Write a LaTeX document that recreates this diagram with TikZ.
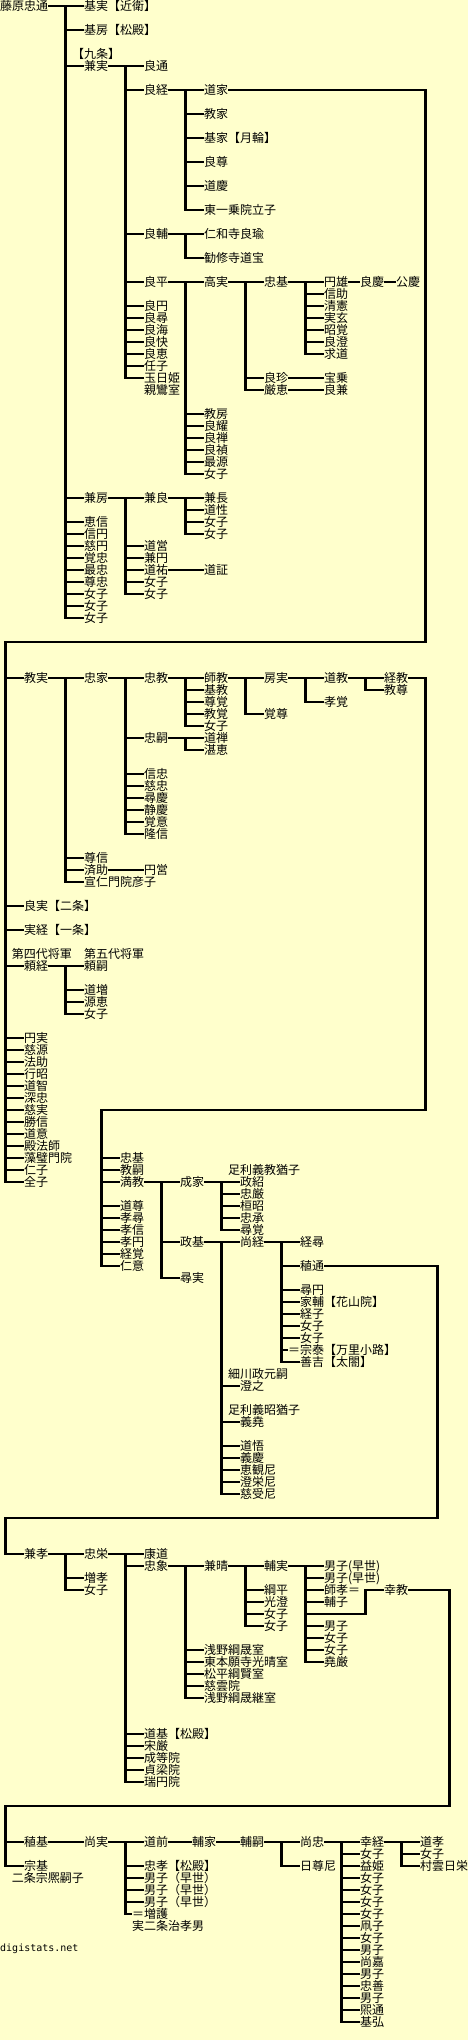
\documentclass[tikz,border=0pt]{standalone}
\usepackage{fontspec}
\newfontfamily\jpf{Noto Sans CJK JP}
\newfontfamily\monof{DejaVu Sans Mono}
\definecolor{bgc}{HTML}{FFFFCC}
\tikzset{
 nm/.style={anchor=west,inner sep=0pt,outer sep=0pt,font=\jpf\fontsize{12pt}{12pt}\selectfont,text height=10.56pt,text depth=1.44pt},
 ln/.style={line width=2.2pt,draw=black},
}
\newcommand\jn[4]{\node[nm] (#1) at (#2,#3+0.5) {#4};}
\newcommand\kids[3]{\draw[ln] (#1.east) -- (#1.east -| #2);\foreach \kid in {#3}{\draw[ln] (#1.east -| #2) |- (\kid.west);}}
\newcommand\lnk[2]{\draw[ln] (#1.east) -- (#2.west);}
\begin{document}
\begin{tikzpicture}[x=12pt,y=-12pt]
\fill[bgc] (0,0) rectangle (39,170);
\useasboundingbox (0,0) rectangle (39,170);
\foreach \c in {0,...,38}{\coordinate (col\c) at (\c+0.45,0);}
% ---------- section 1
\jn{p0}{0}{0}{藤原忠通}
\jn{p1}{7}{0}{基実【近衛】}
\jn{p2}{7}{2}{基房【松殿】}
\jn{lk}{6}{4}{【九条】}
\jn{p3}{7}{5}{兼実}
\jn{q1}{12}{5}{良通}
\jn{q2}{12}{7}{良経}
\jn{r1}{17}{7}{道家}
\jn{r2}{17}{9}{教家}
\jn{r3}{17}{11}{基家【月輪】}
\jn{r4}{17}{13}{良尊}
\jn{r5}{17}{15}{道慶}
\jn{r6}{17}{17}{東一乗院立子}
\jn{q3}{12}{19}{良輔}
\jn{s1}{17}{19}{仁和寺良瑜}
\jn{s2}{17}{21}{勧修寺道宝}
\jn{q4}{12}{23}{良平}
\jn{t1}{17}{23}{高実}
\jn{u1}{22}{23}{忠基}
\jn{v1}{27}{23}{円雄}
\jn{v1a}{30}{23}{良慶}
\jn{v1b}{33}{23}{公慶}
\jn{v2}{27}{24}{信助}
\jn{v3}{27}{25}{清憲}
\jn{v4}{27}{26}{実玄}
\jn{v5}{27}{27}{昭覚}
\jn{v6}{27}{28}{良澄}
\jn{v7}{27}{29}{求道}
\jn{u2}{22}{31}{良珍}
\jn{u2a}{27}{31}{宝乗}
\jn{u3}{22}{32}{厳恵}
\jn{u3a}{27}{32}{良兼}
\jn{q5}{12}{25}{良円}
\jn{q6}{12}{26}{良尋}
\jn{q7}{12}{27}{良海}
\jn{q8}{12}{28}{良快}
\jn{q9}{12}{29}{良恵}
\jn{q10}{12}{30}{任子}
\jn{q11}{12}{31}{玉日姫}
\jn{ls}{12}{32}{親鸞室}
\jn{t2}{17}{34}{教房}
\jn{t3}{17}{35}{良耀}
\jn{t4}{17}{36}{良禅}
\jn{t5}{17}{37}{良禎}
\jn{t6}{17}{38}{最源}
\jn{t7}{17}{39}{女子}
\jn{p4}{7}{41}{兼房}
\jn{w1}{12}{41}{兼良}
\jn{x1}{17}{41}{兼長}
\jn{x2}{17}{42}{道性}
\jn{x3}{17}{43}{女子}
\jn{x4}{17}{44}{女子}
\jn{w2}{12}{45}{道営}
\jn{w3}{12}{46}{兼円}
\jn{w4}{12}{47}{道祐}
\jn{w4a}{17}{47}{道証}
\jn{w5}{12}{48}{女子}
\jn{w6}{12}{49}{女子}
\jn{p5}{7}{43}{恵信}
\jn{p6}{7}{44}{信円}
\jn{p7}{7}{45}{慈円}
\jn{p8}{7}{46}{覚忠}
\jn{p9}{7}{47}{最忠}
\jn{p10}{7}{48}{尊忠}
\jn{p11}{7}{49}{女子}
\jn{p12}{7}{50}{女子}
\jn{p13}{7}{51}{女子}
\kids{p0}{col5}{p1,p2,p3,p4,p5,p6,p7,p8,p9,p10,p11,p12,p13}
\kids{p3}{col10}{q1,q2,q3,q4,q5,q6,q7,q8,q9,q10,q11}
\kids{q2}{col15}{r1,r2,r3,r4,r5,r6}
\kids{q3}{col15}{s1,s2}
\kids{q4}{col15}{t1,t2,t3,t4,t5,t6,t7}
\kids{t1}{col20}{u1,u2,u3}
\kids{u1}{col25}{v1,v2,v3,v4,v5,v6,v7}
\lnk{v1}{v1a}\lnk{v1a}{v1b}\lnk{u2}{u2a}\lnk{u3}{u3a}
\kids{p4}{col10}{w1,w2,w3,w4,w5,w6}
\kids{w1}{col15}{x1,x2,x3,x4}
\lnk{w4}{w4a}
% ---------- section 2
\jn{k0}{2}{56}{教実}
\jn{k1}{7}{56}{忠家}
\jn{k2}{12}{56}{忠教}
\jn{k3}{17}{56}{師教}
\jn{k4}{22}{56}{房実}
\jn{k5}{27}{56}{道教}
\jn{k6}{32}{56}{経教}
\jn{k3a}{17}{57}{基教}
\jn{k3b}{17}{58}{尊覚}
\jn{k3c}{17}{59}{教覚}
\jn{k3d}{17}{60}{女子}
\jn{k6a}{32}{57}{教尊}
\jn{k5a}{27}{58}{孝覚}
\jn{k4a}{22}{59}{覚尊}
\jn{k2a}{12}{61}{忠嗣}
\jn{k2a1}{17}{61}{道禅}
\jn{k2a2}{17}{62}{湛恵}
\jn{k2b}{12}{64}{信忠}
\jn{k2c}{12}{65}{慈忠}
\jn{k2d}{12}{66}{尋慶}
\jn{k2e}{12}{67}{静慶}
\jn{k2f}{12}{68}{覚意}
\jn{k2g}{12}{69}{隆信}
\jn{k1a}{7}{71}{尊信}
\jn{k1b}{7}{72}{済助}
\jn{k1b1}{12}{72}{円営}
\jn{k1c}{7}{73}{宣仁門院彦子}
\jn{y1}{2}{75}{良実【二条】}
\jn{y2}{2}{77}{実経【一条】}
\jn{l4}{1}{79}{第四代将軍}
\jn{l5}{7}{79}{第五代将軍}
\jn{y3}{2}{80}{頼経}
\jn{y3a}{7}{80}{頼嗣}
\jn{y3b}{7}{82}{道増}
\jn{y3c}{7}{83}{源恵}
\jn{y3d}{7}{84}{女子}
\jn{y4}{2}{86}{円実}
\jn{y5}{2}{87}{慈源}
\jn{y6}{2}{88}{法助}
\jn{y7}{2}{89}{行昭}
\jn{y8}{2}{90}{道智}
\jn{y9}{2}{91}{深忠}
\jn{y10}{2}{92}{慈実}
\jn{y11}{2}{93}{勝信}
\jn{y12}{2}{94}{道意}
\jn{y13}{2}{95}{殿法師}
\jn{y14}{2}{96}{藻璧門院}
\jn{y15}{2}{97}{仁子}
\jn{y16}{2}{98}{全子}
\coordinate (ta) at (35.45,53.5);
\coordinate (tb) at (0.45,53.5);
\draw[ln] (r1.east) -| (ta) -- (tb) |- (k0.west);
\foreach \kid in {y1,y2,y3,y4,y5,y6,y7,y8,y9,y10,y11,y12,y13,y14,y15,y16}{\draw[ln] (tb) |- (\kid.west);}
\kids{k0}{col5}{k1,k1a,k1b,k1c}
\kids{k1}{col10}{k2,k2a,k2b,k2c,k2d,k2e,k2f,k2g}
\kids{k2}{col15}{k3,k3a,k3b,k3c,k3d}
\kids{k3}{col20}{k4,k4a}
\kids{k4}{col25}{k5,k5a}
\kids{k5}{col30}{k6,k6a}
\kids{k2a}{col15}{k2a1,k2a2}
\lnk{k1b}{k1b1}
\kids{y3}{col5}{y3a,y3b,y3c,y3d}
% ---------- section 3
\jn{m1}{10}{96}{忠基}
\jn{m2}{10}{97}{教嗣}
\jn{m3}{10}{98}{満教}
\jn{m4}{10}{100}{道尊}
\jn{m5}{10}{101}{孝尋}
\jn{m6}{10}{102}{孝信}
\jn{m7}{10}{103}{孝円}
\jn{m8}{10}{104}{経覚}
\jn{m9}{10}{105}{仁意}
\jn{la}{19}{97}{足利義教猶子}
\jn{n1}{15}{98}{成家}
\jn{n2}{15}{103}{政基}
\jn{n3}{15}{106}{尋実}
\jn{o1}{20}{98}{政紹}
\jn{o2}{20}{99}{忠厳}
\jn{o3}{20}{100}{桓昭}
\jn{o4}{20}{101}{忠承}
\jn{o5}{20}{102}{尋覚}
\jn{z0}{20}{103}{尚経}
\jn{lb}{19}{114}{細川政元嗣}
\jn{z1}{20}{115}{澄之}
\jn{lc}{19}{117}{足利義昭猶子}
\jn{z2}{20}{118}{義堯}
\jn{z3}{20}{120}{道悟}
\jn{z4}{20}{121}{義慶}
\jn{z5}{20}{122}{恵観尼}
\jn{z6}{20}{123}{澄栄尼}
\jn{z7}{20}{124}{慈受尼}
\jn{g1}{25}{103}{経尋}
\jn{g2}{25}{105}{稙通}
\jn{g3}{25}{107}{尋円}
\jn{g4}{25}{108}{家輔【花山院】}
\jn{g5}{25}{109}{経子}
\jn{g6}{25}{110}{女子}
\jn{g7}{25}{111}{女子}
\jn{g8}{24}{112}{＝宗泰【万里小路】}
\jn{g9}{25}{113}{善吉【太閤】}
\coordinate (tc) at (35.45,92.5);
\coordinate (td) at (8.45,92.5);
\draw[ln] (k6.east) -| (tc) -- (td) |- (m1.west);
\foreach \kid in {m2,m3,m4,m5,m6,m7,m8,m9}{\draw[ln] (td) |- (\kid.west);}
\kids{m3}{col13}{n1,n2,n3}
\kids{n1}{col18}{o1,o2,o3,o4,o5}
\kids{n2}{col18}{z0,z1,z2,z3,z4,z5,z6,z7}
\kids{z0}{col23}{g1,g2,g3,g4,g5,g6,g7,g8,g9}
% ---------- section 4
\jn{h0}{2}{129}{兼孝}
\jn{h1}{7}{129}{忠栄}
\jn{h1a}{7}{131}{増孝}
\jn{h1b}{7}{132}{女子}
\jn{i0}{12}{129}{康道}
\jn{i1}{12}{130}{忠象}
\jn{i2}{12}{144}{道基【松殿】}
\jn{i3}{12}{145}{宋厳}
\jn{i4}{12}{146}{成等院}
\jn{i5}{12}{147}{貞梁院}
\jn{i6}{12}{148}{瑞円院}
\jn{j0}{17}{130}{兼晴}
\jn{j1}{17}{137}{浅野綱晟室}
\jn{j2}{17}{138}{東本願寺光晴室}
\jn{j3}{17}{139}{松平綱賢室}
\jn{j4}{17}{140}{慈雲院}
\jn{j5}{17}{141}{浅野綱晟継室}
\jn{e0}{22}{130}{輔実}
\jn{e1}{22}{132}{綱平}
\jn{e2}{22}{133}{光澄}
\jn{e3}{22}{134}{女子}
\jn{e4}{22}{135}{女子}
\jn{f1}{27}{130}{男子(早世)}
\jn{f2}{27}{131}{男子(早世)}
\jn{f3}{27}{132}{師孝＝}
\jn{f4}{27}{133}{輔子}
\jn{f5}{27}{135}{男子}
\jn{f6}{27}{136}{女子}
\jn{f7}{27}{137}{女子}
\jn{f8}{27}{138}{堯厳}
\jn{kk}{32}{132}{幸教}
\coordinate (te) at (36.45,126.5);
\coordinate (tf) at (0.45,126.5);
\draw[ln] (g2.east) -| (te) -- (tf) |- (h0.west);
\kids{h0}{col5}{h1,h1a,h1b}
\kids{h1}{col10}{i0,i1,i2,i3,i4,i5,i6}
\kids{i1}{col15}{j0,j1,j2,j3,j4,j5}
\kids{j0}{col20}{e0,e1,e2,e3,e4}
\kids{e0}{col25}{f1,f2,f3,f4,f5,f6,f7,f8}
\coordinate (ti) at (30.45,134.5);
\draw[ln] (e0.east -| col25) |- (ti) |- (kk.west);
% ---------- section 5
\jn{S0}{2}{153}{稙基}
\jn{S0b}{2}{155}{宗基}
\jn{ld}{1}{156}{二条宗熈嗣子}
\jn{S1}{7}{153}{尚実}
\jn{S2}{12}{153}{道前}
\jn{S3}{12}{155}{忠孝【松殿】}
\jn{S4}{12}{156}{男子（早世）}
\jn{S5}{12}{157}{男子（早世）}
\jn{S6}{12}{158}{男子（早世）}
\jn{S7}{11}{159}{＝増護}
\jn{le}{11}{160}{実二条治孝男}
\jn{S8}{16}{153}{輔家}
\jn{S9}{20}{153}{輔嗣}
\jn{T0}{25}{153}{尚忠}
\jn{T1}{25}{155}{日尊尼}
\jn{U0}{30}{153}{幸経}
\jn{U1}{30}{154}{女子}
\jn{U2}{30}{155}{益姫}
\jn{U3}{30}{156}{女子}
\jn{U4}{30}{157}{女子}
\jn{U5}{30}{158}{女子}
\jn{U6}{30}{159}{女子}
\jn{U7}{30}{160}{凧子}
\jn{U8}{30}{161}{女子}
\jn{U9}{30}{162}{男子}
\jn{U10}{30}{163}{尚嘉}
\jn{U11}{30}{164}{男子}
\jn{U12}{30}{165}{忠善}
\jn{U13}{30}{166}{男子}
\jn{U14}{30}{167}{煕通}
\jn{U15}{30}{168}{基弘}
\jn{V0}{35}{153}{道孝}
\jn{V1}{35}{154}{女子}
\jn{V2}{35}{155}{村雲日栄}
\node[anchor=west,inner sep=0pt,font=\monof\fontsize{10pt}{10pt}\selectfont] (dg) at (0,162.4) {digistats.net};
\coordinate (tg) at (37.45,150.5);
\coordinate (th) at (0.45,150.5);
\draw[ln] (kk.east) -| (tg) -- (th) |- (S0.west);
\draw[ln] (th) |- (S0b.west);
\lnk{S0}{S1}
\kids{S1}{col10}{S2,S3,S4,S5,S6,S7}
\lnk{S2}{S8}\lnk{S8}{S9}
\kids{S9}{col23}{T0,T1}
\kids{T0}{col28}{U0,U1,U2,U3,U4,U5,U6,U7,U8,U9,U10,U11,U12,U13,U14,U15}
\kids{U0}{col33}{V0,V1,V2}
\end{tikzpicture}
\end{document}
